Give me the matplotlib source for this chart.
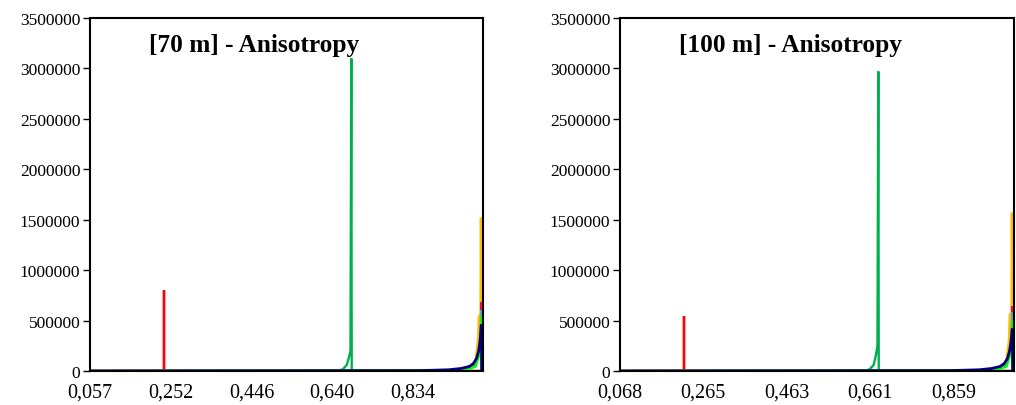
import matplotlib.pyplot as plt
from matplotlib.ticker import FuncFormatter

plt.rcParams['font.family'] = ['Liberation Serif', 'DejaVu Serif']

# Panel titles and x tick labels
titles = ['[70 m] - Anisotropy', '[100 m] - Anisotropy']
xticks_70 = [0.057, 0.252, 0.446, 0.640, 0.834]
xticks_100 = [0.068, 0.265, 0.463, 0.661, 0.859]

# [70 m] series (x, y)
red_x_70 = [0.057, 0.236, 0.236, 0.236, 1.0]
red_y_70 = [0, 0, 800000, 0, 0]
green_x_70 = [0.057, 0.650, 0.665, 0.675, 0.680, 0.684, 0.686, 0.687, 0.690, 1.0]
green_y_70 = [0, 0, 15000, 60000, 130000, 200000, 3100000, 0, 0, 0]
orange_x_70 = [0.057, 0.95, 0.975, 0.985, 0.991, 0.993, 0.997, 0.998, 1.0]
orange_y_70 = [0, 8000, 40000, 110000, 300000, 540000, 560000, 1520000, 0]
magenta_x_70 = [0.057, 0.96, 0.985, 0.994, 0.998, 0.999, 1.0]
magenta_y_70 = [0, 8000, 60000, 200000, 450000, 680000, 0]
teal_x_70 = [0.057, 0.96, 0.985, 0.994, 0.998, 0.999, 1.0]
teal_y_70 = [0, 6000, 50000, 180000, 420000, 600000, 0]
lime_x_70 = [0.057, 0.96, 0.985, 0.994, 0.998, 0.999, 1.0]
lime_y_70 = [0, 5000, 45000, 160000, 380000, 530000, 0]
navy_x_70 = [0.057, 0.85, 0.92, 0.95, 0.97, 0.98, 0.987, 0.992, 0.996, 0.999, 1.0]
navy_y_70 = [0, 4000, 12000, 25000, 45000, 75000, 120000, 190000, 290000, 460000, 0]

# [100 m] series (x, y)
red_x_100 = [0.068, 0.221, 0.221, 0.221, 1.0]
red_y_100 = [0, 0, 550000, 0, 0]
green_x_100 = [0.068, 0.645, 0.660, 0.670, 0.675, 0.679, 0.681, 0.682, 0.685, 1.0]
green_y_100 = [0, 0, 15000, 60000, 150000, 250000, 2970000, 0, 0, 0]
orange_x_100 = [0.068, 0.95, 0.975, 0.985, 0.991, 0.993, 0.997, 0.998, 1.0]
orange_y_100 = [0, 8000, 40000, 110000, 300000, 560000, 570000, 1570000, 0]
magenta_x_100 = [0.068, 0.96, 0.985, 0.994, 0.998, 0.999, 1.0]
magenta_y_100 = [0, 8000, 60000, 200000, 450000, 640000, 0]
teal_x_100 = [0.068, 0.96, 0.985, 0.994, 0.998, 0.999, 1.0]
teal_y_100 = [0, 6000, 50000, 180000, 420000, 580000, 0]
lime_x_100 = [0.068, 0.96, 0.985, 0.994, 0.998, 0.999, 1.0]
lime_y_100 = [0, 5000, 45000, 160000, 380000, 500000, 0]
navy_x_100 = [0.068, 0.85, 0.92, 0.95, 0.97, 0.98, 0.987, 0.992, 0.996, 0.999, 1.0]
navy_y_100 = [0, 4000, 12000, 25000, 45000, 75000, 120000, 190000, 290000, 420000, 0]

colors = {'red': '#FF0000', 'green': '#00B050', 'orange': '#FFC000',
          'magenta': '#FF0066', 'teal': '#4BACC6', 'lime': '#00FF00',
          'navy': '#000080'}

panels = [
    (titles[0], xticks_70, [
        ('green', green_x_70, green_y_70), ('red', red_x_70, red_y_70),
        ('orange', orange_x_70, orange_y_70), ('magenta', magenta_x_70, magenta_y_70),
        ('teal', teal_x_70, teal_y_70), ('lime', lime_x_70, lime_y_70),
        ('navy', navy_x_70, navy_y_70)]),
    (titles[1], xticks_100, [
        ('green', green_x_100, green_y_100), ('red', red_x_100, red_y_100),
        ('orange', orange_x_100, orange_y_100), ('magenta', magenta_x_100, magenta_y_100),
        ('teal', teal_x_100, teal_y_100), ('lime', lime_x_100, lime_y_100),
        ('navy', navy_x_100, navy_y_100)]),
]

fig = plt.figure(figsize=(10.16, 4.06), dpi=100)
lefts = [90 / 1016, 620 / 1016]
widths = [393 / 1016, 394 / 1016]

for i, (title, xt, series) in enumerate(panels):
    ax = fig.add_axes([lefts[i], 34 / 406, widths[i], 353 / 406])
    for name, xs, ys in series:
        lw = 2.0 if name == 'navy' else 1.7
        ax.plot(xs, ys, color=colors[name], lw=lw, solid_joinstyle='miter')
    ax.set_xlim(xt[0], 1.003)
    ax.set_ylim(0, 3500000)
    ax.set_yticks(range(0, 3500001, 500000))
    ax.yaxis.set_major_formatter(FuncFormatter(lambda v, p: f'{int(v)}'))
    ax.set_xticks(xt)
    ax.set_xticklabels([f'{v:.3f}'.replace('.', ',') for v in xt])
    ax.tick_params(axis='y', direction='out', length=5, width=1, labelsize=12.5, pad=2)
    ax.tick_params(axis='x', length=0, labelsize=14.5, pad=8)
    for s in ax.spines.values():
        s.set_linewidth(1.5)
    ax.text(0.15, 0.925, title, transform=ax.transAxes, fontsize=18.3,
            fontweight='bold', va='center', ha='left')

fig.savefig('out.png', dpi=100)
